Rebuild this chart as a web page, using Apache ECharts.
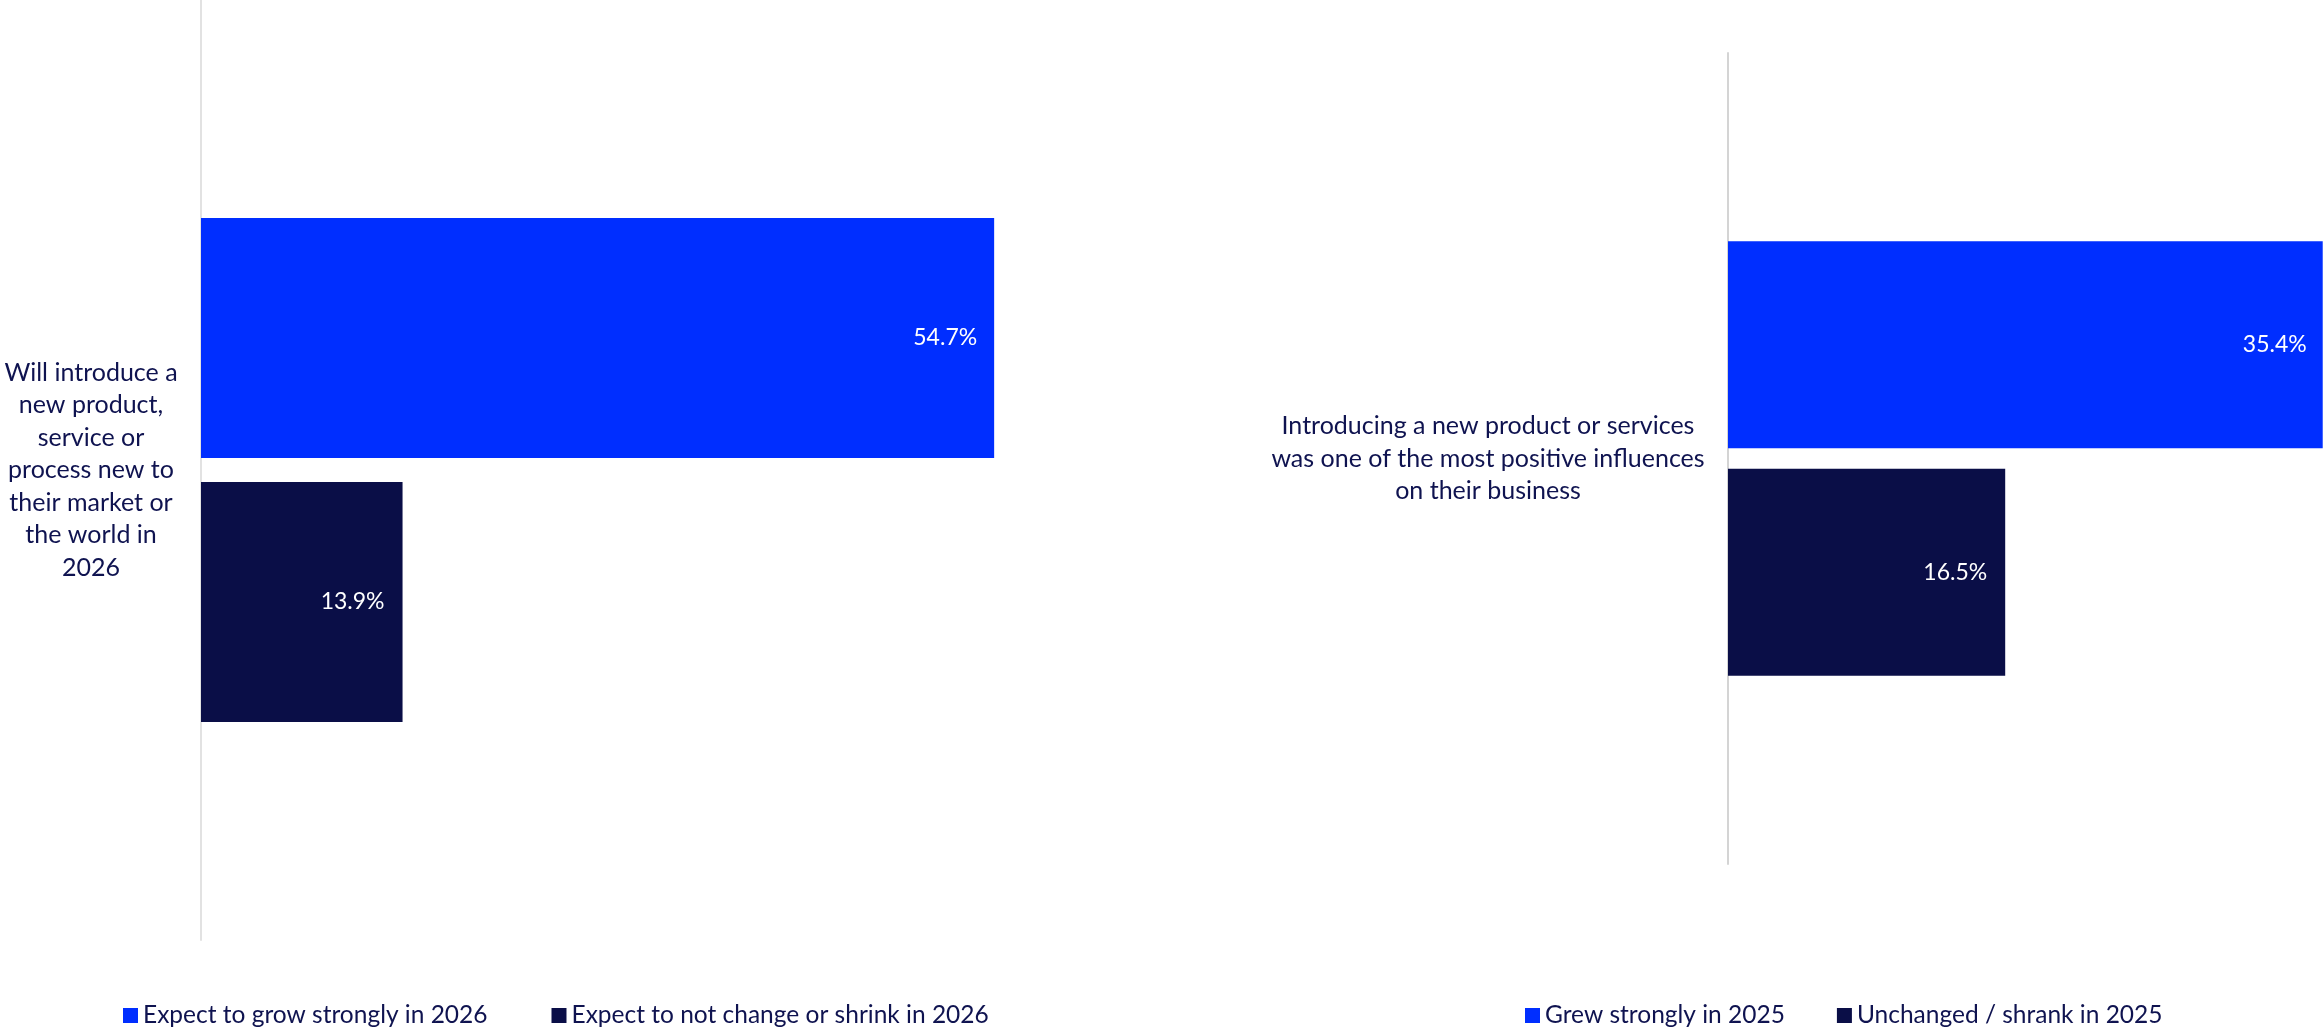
<!DOCTYPE html>
<html>
<head>
<meta charset="utf-8">
<title>New products and services</title>
<script src="https://cdn.jsdelivr.net/npm/echarts@6/dist/echarts.min.js"></script>
<style>
  html, body { margin: 0; padding: 0; background: #ffffff; }
  #chart { width: 2323px; height: 1030px; }
</style>
</head>
<body>
<div id="chart"></div>
<script>
// Left panel: outlook for 2026
const categoriesLeft = ['Will introduce a\nnew product,\nservice or\nprocess new to\ntheir market or\nthe world in\n2026'];
const namesLeft = ['Expect to grow strongly in 2026', 'Expect to not change or shrink in 2026'];
const growLeft = [54.7];
const flatLeft = [13.9];

// Right panel: what happened in 2025
const categoriesRight = ['Introducing a new product or services\nwas one of the most positive influences\non their business'];
const namesRight = ['Grew strongly in 2025', 'Unchanged / shrank in 2025'];
const growRight = [35.4];
const flatRight = [16.5];

const BLUE = '#002EFF';
const NAVY = '#0A0E47';
const TEXT = '#0F1350';
const FONT = 'Lato, "Open Sans", sans-serif';

const chart = echarts.init(document.getElementById('chart'), null, { renderer: 'canvas' });

function valueLabel(dist) {
  return {
    show: true,
    position: 'insideRight',
    distance: dist,
    color: '#ffffff',
    fontFamily: FONT,
    fontSize: 23,
    formatter: p => p.value.toFixed(1) + '%'
  };
}

function catAxis(gridIndex, data, margin, lineColor) {
  return {
    type: 'category',
    gridIndex: gridIndex,
    data: data,
    inverse: true,
    axisLine: { show: true, lineStyle: { color: lineColor, width: 2 } },
    axisTick: { show: false },
    axisLabel: {
      margin: margin,
      align: 'center',
      color: TEXT,
      fontFamily: FONT,
      fontSize: 25,
      lineHeight: 32.5
    }
  };
}

function valAxis(gridIndex, max) {
  return {
    type: 'value',
    gridIndex: gridIndex,
    min: 0,
    max: max,
    show: false,
    splitLine: { show: false }
  };
}

function legendBox(names, left, gap) {
  return {
    data: names,
    left: left,
    top: 1003,
    padding: 0,
    icon: 'rect',
    itemWidth: 15,
    itemHeight: 15,
    itemGap: gap,
    textStyle: { color: TEXT, fontFamily: FONT, fontSize: 24.5 }
  };
}

chart.setOption({
  backgroundColor: '#ffffff',
  animation: false,
  textStyle: { fontFamily: FONT },
  grid: [
    { left: 201, top: 0, width: 870, height: 940, outerBoundsMode: 'none' },
    { left: 1728, top: 53, width: 672, height: 811, outerBoundsMode: 'none' }
  ],
  xAxis: [valAxis(0, 60), valAxis(1, 40)],
  yAxis: [
    catAxis(0, categoriesLeft, 110, '#e2e2e2'),
    catAxis(1, categoriesRight, 240, '#d4d4d4')
  ],
  legend: [
    legendBox(namesLeft, 123, 64),
    legendBox(namesRight, 1525, 52)
  ],
  series: [
    {
      name: namesLeft[0], type: 'bar', xAxisIndex: 0, yAxisIndex: 0,
      data: growLeft, barWidth: 240, barGap: '10%',
      itemStyle: { color: BLUE }, label: valueLabel(17)
    },
    {
      name: namesLeft[1], type: 'bar', xAxisIndex: 0, yAxisIndex: 0,
      data: flatLeft, barWidth: 240, barGap: '10%',
      itemStyle: { color: NAVY }, label: valueLabel(18)
    },
    {
      name: namesRight[0], type: 'bar', xAxisIndex: 1, yAxisIndex: 1,
      data: growRight, barWidth: 207, barGap: '10%',
      itemStyle: { color: BLUE }, label: valueLabel(16)
    },
    {
      name: namesRight[1], type: 'bar', xAxisIndex: 1, yAxisIndex: 1,
      data: flatRight, barWidth: 207, barGap: '10%',
      itemStyle: { color: NAVY }, label: valueLabel(18)
    }
  ]
});
</script>
</body>
</html>
